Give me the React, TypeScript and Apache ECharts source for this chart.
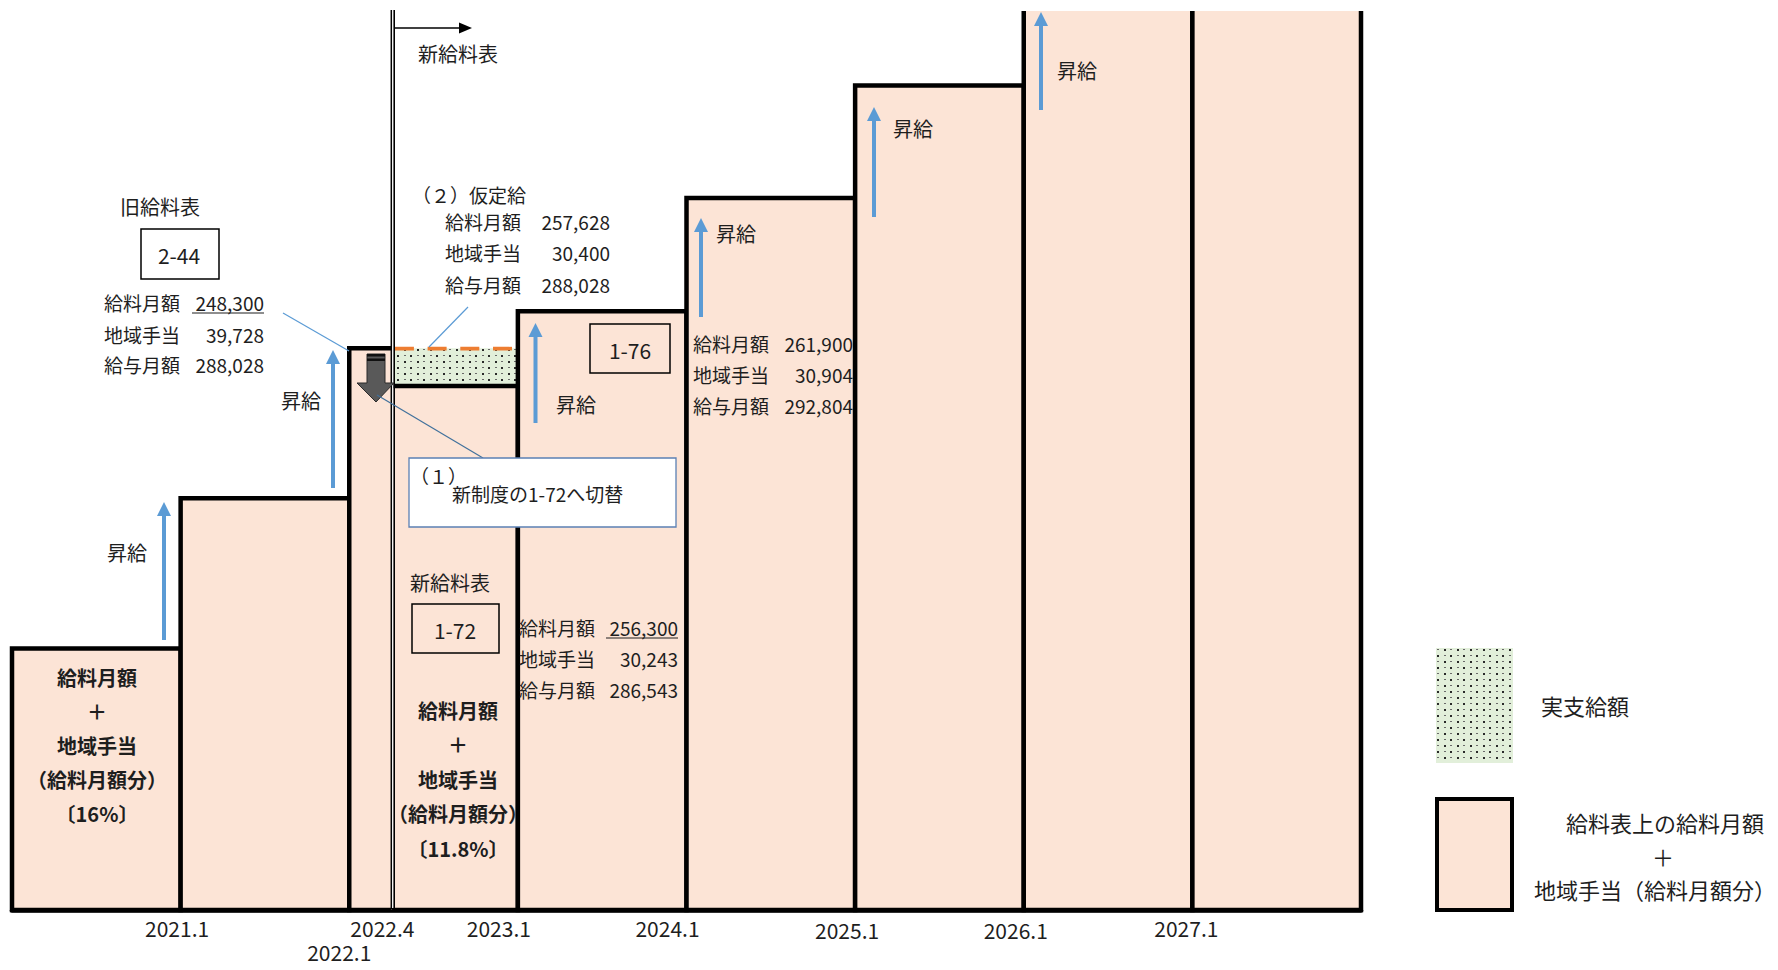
import React, { useEffect, useRef } from 'react';
import * as echarts from 'echarts';

// ---------- data (months counted from 2020.1) ----------
const periodStartMonths = [0, 12, 24, 27, 36, 48, 60, 72, 84];
const periodEndMonths = [12, 24, 27, 36, 48, 60, 72, 84, 96];
// schematic height of 給料月額＋地域手当 for each period (0-100 scale, >100 = runs off the top)
const stepLevels = [29.1, 45.8, 62.5, 58.3, 66.6, 79.2, 91.7, 104, 104];
const provisionalMonths = [27, 36];
const provisionalLevels = [58.3, 62.5];
const switchMonth = 27;
const tickMonths = [12, 24, 27, 36, 48, 60, 72, 84];
const tickLabels = ['2021.1', '2022.1', '2022.4', '2023.1', '2024.1', '2025.1', '2026.1', '2027.1'];
const tickShiftLeft = [7, 20, 18, 38, 38, 16, 16, 12];
const tickShiftDown = [0, 25, 0, 0, 0, 2, 2, 0];

const rowLabels = ['給料月額', '地域手当', '給与月額'];
const oldValues = ['248,300', '39,728', '288,028'];
const provisionalValues = ['257,628', '30,400', '288,028'];
const newValues = ['256,300', '30,243', '286,543'];
const raisedValues = ['261,900', '30,904', '292,804'];
const oldGrade = '2-44';
const newGrade = '1-72';
const raisedGrade = '1-76';
const boldOldLines = ['給料月額', '＋', '地域手当', '（給料月額分）', '〔16%〕'];
const boldNewLines = ['給料月額', '＋', '地域手当', '（給料月額分）', '〔11.8%〕'];
const legendItems = ['実支給額', '給料表上の給料月額', '＋', '地域手当（給料月額分）'];

const PINK = '#FCE4D6';
const BLUE = '#5B9BD5';
const DARKBLUE = '#41719C';
const TEXT = '#1e1e1e';
const FONT = '"Noto Sans CJK JP", "Noto Sans", sans-serif';
const Y_MAX = 100;

export default function App() {
  const ref = useRef<HTMLDivElement>(null);

  useEffect(() => {
    document.body.style.margin = '0';
    const chart = echarts.init(ref.current as HTMLDivElement, null, { renderer: 'svg' });

    // dotted pattern for 実支給額
    const cv = document.createElement('canvas');
    cv.width = 13;
    cv.height = 12;
    const ctx = cv.getContext('2d') as CanvasRenderingContext2D;
    ctx.fillStyle = '#E2EFDA';
    ctx.fillRect(0, 0, 13, 12);
    ctx.fillStyle = '#2a2a2a';
    ctx.fillRect(1, 1, 2, 2);
    ctx.fillRect(7, 7, 2, 2);
    ctx.fillStyle = '#6a6a6a';
    ctx.fillRect(7, 1, 2, 1);
    ctx.fillRect(1, 7, 2, 1);
    const dots: any = { image: cv, repeat: 'repeat', imageWidth: 13, imageHeight: 12 };

    const T = (text: string, x: number, y: number, o: any = {}) => ({
      type: 'text',
      x,
      y,
      z: 20,
      silent: true,
      style: {
        text,
        fill: o.color || TEXT,
        fontSize: o.size || 19,
        fontFamily: FONT,
        fontWeight: o.bold ? 'bold' : 'normal',
        align: o.align || 'left',
        verticalAlign: 'middle',
      },
    });
    const L = (x1: number, y1: number, x2: number, y2: number, stroke: string, lineWidth: number) => ({
      type: 'line',
      z: 20,
      silent: true,
      shape: { x1, y1, x2, y2 },
      style: { stroke, lineWidth },
    });
    const upArrow = (x: number, yBottom: number, yTip: number) => [
      L(x, yBottom, x, yTip + 12, BLUE, 4),
      {
        type: 'polygon',
        z: 20,
        silent: true,
        shape: { points: [[x, yTip], [x - 7, yTip + 14], [x + 7, yTip + 14]] },
        style: { fill: BLUE },
      },
    ];
    const box = (x: number, y: number, w: number, h: number, stroke = '#000', lw = 1.5, fill: any = 'none') => ({
      type: 'rect',
      z: 20,
      silent: true,
      shape: { x, y, width: w, height: h },
      style: { fill, stroke, lineWidth: lw },
    });
    const rows = (labels: string[], values: string[], xl: number, xr: number, ys: number[]) =>
      labels.flatMap((lab, i) => [T(lab, xl, ys[i]), T(values[i], xr, ys[i], { align: 'right' })]);

    const graphics: any[] = [
      // 新給料表 arrow at the top
      L(394.5, 28, 462, 28, '#000', 1.5),
      { type: 'polygon', z: 20, silent: true, shape: { points: [[472, 28], [459, 22.5], [459, 33.5]] }, style: { fill: '#000' } },
      T('新給料表', 458, 53, { size: 20, align: 'center' }),

      // old salary table
      T('旧給料表', 160, 206, { size: 20, align: 'center' }),
      box(141, 229, 78, 50),
      T(oldGrade, 179, 255, { size: 21, align: 'center' }),
      ...rows(rowLabels, oldValues, 104, 264, [302, 334, 364]),
      L(192, 313, 264, 313, TEXT, 1.2),
      L(283, 313, 349, 351, BLUE, 1.2),

      // 昇給 arrows
      ...upArrow(164, 640, 502),
      T('昇給', 127, 552, { size: 20, align: 'center' }),
      ...upArrow(333, 488, 350),
      T('昇給', 301, 400, { size: 20, align: 'center' }),
      ...upArrow(535.5, 423, 323),
      T('昇給', 576, 404, { size: 20, align: 'center' }),
      ...upArrow(701, 317, 218),
      T('昇給', 736, 233, { size: 20, align: 'center' }),
      ...upArrow(874, 217, 107),
      T('昇給', 913, 128, { size: 20, align: 'center' }),
      ...upArrow(1041, 110, 12),
      T('昇給', 1077, 70, { size: 20, align: 'center' }),

      // bar 1 explanation
      ...boldOldLines.map((s, i) => T(s, 97, 677 + i * 34.2, { size: 20, bold: true, align: 'center' })),

      // grey switch arrow
      {
        type: 'polygon',
        z: 20,
        silent: true,
        shape: { points: [[367, 354], [385, 354], [385, 383], [394, 383], [376, 402], [357, 383], [367, 383]] },
        style: { fill: '#595959', stroke: '#2b2b2b', lineWidth: 1 },
      },
      box(367, 354, 18, 2.5, 'none', 0, '#111'),
      box(367, 358.5, 18, 2.5, 'none', 0, '#111'),

      // (1) callout
      L(483, 458, 377, 395, DARKBLUE, 1.2),
      box(409, 458, 267, 69, '#5B80B4', 1.3, '#fff'),
      T('（１）', 410, 475),
      T('新制度の1-72へ切替', 452, 493),

      // (2) provisional pay
      T('（２）仮定給', 412, 194),
      ...rows(rowLabels, provisionalValues, 445, 610, [221, 252, 284]),
      L(468, 307, 429, 347, BLUE, 1.2),

      // new salary table in 2022.4
      T('新給料表', 450, 582, { size: 20, align: 'center' }),
      box(412, 604, 87, 49),
      T(newGrade, 455, 630, { size: 21, align: 'center' }),
      ...boldNewLines.map((s, i) => T(s, 458, 710 + i * 34.5, { size: 20, bold: true, align: 'center' })),

      // 2023.1 block
      ...rows(rowLabels, newValues, 519, 678, [627, 658, 689]),
      L(606, 638, 678, 638, TEXT, 1.2),
      box(590, 324, 80, 49),
      T(raisedGrade, 630, 350, { size: 21, align: 'center' }),

      // 2024.1 block
      ...rows(rowLabels, raisedValues, 693, 853, [343, 374, 405]),

      // legend
      box(1436, 648, 77, 115, 'none', 0, dots),
      T(legendItems[0], 1541, 705, { size: 22 }),
      box(1437, 799, 75, 111, '#000', 4, PINK),
      T(legendItems[1], 1665, 822, { size: 22, align: 'center' }),
      T(legendItems[2], 1663, 856, { size: 22, align: 'center' }),
      T(legendItems[3], 1655, 889, { size: 22, align: 'center' }),
    ];

    const rich: any = {};
    tickLabels.forEach((_, i) => {
      rich['s' + i] = {
        fontSize: 21,
        fontFamily: FONT,
        color: TEXT,
        padding: [tickShiftDown[i], tickShiftLeft[i], 0, 0],
      };
    });

    const option: any = {
      animation: false,
      backgroundColor: '#fff',
      grid: { left: 12, right: 417, top: 11, bottom: 60 },
      xAxis: {
        type: 'value',
        min: 0,
        max: 96,
        splitLine: { show: false },
        axisTick: { show: false },
        axisLine: { show: true, lineStyle: { color: '#000', width: 4.5 } },
        axisLabel: {
          customValues: tickMonths,
          margin: 7,
          hideOverlap: false,
          formatter: (v: number) => {
            const i = tickMonths.indexOf(v);
            return i < 0 ? '' : `{s${i}|${tickLabels[i]}}`;
          },
          rich,
        },
      },
      yAxis: { type: 'value', min: 0, max: Y_MAX, show: false, splitLine: { show: false } },
      series: [
        {
          name: '実支給額',
          type: 'custom',
          z: 2,
          data: [[provisionalMonths[0], provisionalMonths[1], provisionalLevels[0], provisionalLevels[1]]],
          renderItem: (_p: any, api: any) => {
            const a = api.coord([api.value(0), api.value(2)]);
            const b = api.coord([api.value(1), api.value(3)]);
            return {
              type: 'group',
              children: [
                { type: 'rect', shape: { x: a[0], y: b[1], width: b[0] - a[0], height: a[1] - b[1] }, style: { fill: dots } },
                {
                  type: 'line',
                  shape: { x1: a[0] + 3.5, y1: b[1] + 0.5, x2: b[0] - 3, y2: b[1] + 0.5 },
                  style: { stroke: '#ED7D31', lineWidth: 3.6, lineDash: [19, 13.7] },
                },
              ],
            };
          },
        },
        {
          name: '給料表上の給料月額＋地域手当',
          type: 'custom',
          z: 3,
          data: periodStartMonths.map((s, i) => [s, periodEndMonths[i], stepLevels[i]]),
          renderItem: (_p: any, api: any) => {
            const s = api.value(0);
            const e = api.value(1);
            const lv = api.value(2);
            const open = lv > Y_MAX;
            const bl = api.coord([s, 0]);
            const tr = api.coord([e, Math.min(lv, Y_MAX)]);
            const P: any = { TL: [bl[0], tr[1]], BL: bl, BR: [tr[0], bl[1]], TR: tr };
            const sides = [['TL', 'BL'], ['BL', 'BR'], ['BR', 'TR'], ['TR', 'TL']];
            const omit = [s === switchMonth, false, e === switchMonth, open];
            const children: any[] = [
              {
                type: 'rect',
                shape: { x: bl[0], y: tr[1], width: tr[0] - bl[0], height: bl[1] - tr[1] },
                style: { fill: PINK },
              },
            ];
            const k = omit.indexOf(true);
            if (k < 0) {
              children.push({
                type: 'polygon',
                shape: { points: [P.TL, P.BL, P.BR, P.TR] },
                style: { fill: 'none', stroke: '#000', lineWidth: 4.5, lineJoin: 'miter' },
              });
            } else {
              const pts: any[] = [];
              for (let j = 1; j <= 3; j++) {
                const sd = sides[(k + j) % 4];
                if (j === 1) pts.push(P[sd[0]]);
                pts.push(P[sd[1]]);
              }
              children.push({
                type: 'polyline',
                shape: { points: pts },
                style: { fill: 'none', stroke: '#000', lineWidth: 4.5, lineJoin: 'miter', lineCap: 'butt' },
              });
            }
            return { type: 'group', children };
          },
        },
        {
          name: '新給料表切替',
          type: 'custom',
          z: 4,
          data: [[switchMonth]],
          renderItem: (_p: any, api: any) => {
            const b = api.coord([api.value(0), 0]);
            const t = api.coord([api.value(0), Y_MAX]);
            const x = b[0];
            return {
              type: 'group',
              children: [
                { type: 'rect', shape: { x: x + 0.6, y: t[1] - 1, width: 1.6, height: b[1] - t[1] - 1 }, style: { fill: '#fff' } },
                { type: 'line', shape: { x1: x - 0.1, y1: t[1] - 1, x2: x - 0.1, y2: b[1] - 1 }, style: { stroke: '#000', lineWidth: 1.5 } },
                { type: 'line', shape: { x1: x + 2.8, y1: t[1] - 1, x2: x + 2.8, y2: b[1] - 1 }, style: { stroke: '#000', lineWidth: 1.6 } },
              ],
            };
          },
        },
      ],
      graphic: { elements: graphics },
    };

    chart.setOption(option);
    return () => chart.dispose();
  }, []);

  return <div ref={ref} style={{ width: 1778, height: 970 }} />;
}
